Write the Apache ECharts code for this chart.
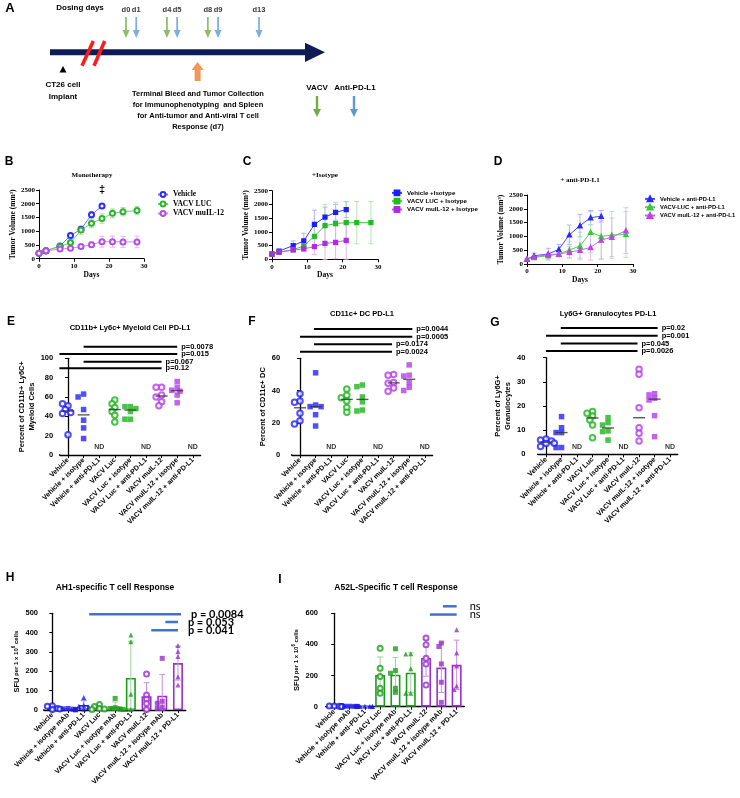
<!DOCTYPE html>
<html>
<head>
<meta charset="utf-8">
<script src="https://cdn.jsdelivr.net/npm/echarts/dist/echarts.min.js"></script>
<style>
html, body { margin: 0; padding: 0; background: #fff; }
#main { width: 740px; height: 798px; }
</style>
</head>
<body>
<div id="main"></div>
<script>
/* ---- panel A: dosing schedule (days) ---- */
var vacvDays = [0, 4, 8];
var pdl1Days = [1, 5, 9, 13];
var collectDay = 7;

/* ---- panels B-D: tumour growth, days / mm3 ---- */
var bDays = [0, 2, 6, 9, 12, 15, 18, 21, 24, 28];
var bVehicle = [200, 280, 465, 840, 1070, 1600, 1920];
var bVehicleErr = [20, 30, 40, 80, 100, 110, 60];
var bLuc = [200, 300, 440, 585, 1040, 1290, 1460, 1650, 1710, 1750];
var bLucErr = [20, 30, 40, 70, 150, 160, 170, 160, 150, 150];
var bIl12 = [200, 290, 350, 380, 440, 510, 620, 620, 610, 610];
var bIl12Err = [20, 30, 40, 40, 60, 100, 200, 200, 200, 210];

var cVehicle = [190, 300, 500, 670, 1270, 1540, 1710, 1810];
var cVehicleErr = [20, 60, 170, 280, 520, 360, 290, 290];
var cLuc = [190, 255, 350, 485, 840, 1225, 1300, 1335, 1335, 1335];
var cLucErr = [20, 40, 80, 150, 380, 780, 780, 770, 770, 770];
var cIl12 = [190, 260, 340, 380, 460, 580, 620, 690];
var cIl12Err = [20, 40, 60, 90, 280, 590, 600, 690];

var dVehicle = [180, 300, 360, 530, 1060, 1390, 1680, 1730];
var dVehicleErr = [20, 90, 210, 180, 350, 410, 260, 210];
var dLuc = [180, 240, 300, 360, 510, 650, 1150, 1000, 1050, 1070];
var dLucErr = [20, 40, 60, 100, 300, 500, 750, 810, 850, 830];
var dIl12 = [180, 260, 340, 360, 430, 500, 600, 870, 970, 1210];
var dIl12Err = [20, 40, 60, 80, 200, 290, 460, 700, 700, 830];

/* ---- panels E-G: PD-L1 % per mouse ---- */
var catsDot = ['Vehicle', 'Vehicle + isotype', 'Vehicle + anti-PD-L1', 'VACV Luc', 'VACV Luc + isotype',
  'VACV Luc + anti-PD-L1', 'VACV muIL-12', 'VACV muIL-12 + isotype', 'VACV muIL-12 + anti-PD-L1'];
var eVals = [[51, 53, 47, 44, 43, 21], [63, 60, 47, 36, 28, 17], [], [57, 53, 49, 45, 41, 34],
  [50, 50, 48, 45, 37, 37], [], [70, 70, 62, 60, 55, 51], [76, 70, 67, 66, 62, 54], []];
var fVals = [[38, 33.5, 32.7, 25.9, 21.3, 19.3], [51, 31, 30, 30, 25, 18], [], [41, 37, 35.5, 33.5, 29.5, 26.5],
  [43.4, 42.4, 36, 33, 27.9, 27.3], [], [50, 49.5, 45, 44.5, 41.5, 39.5], [55.9, 49.5, 49, 45, 42, 40], []];
var gVals = [[6.3, 5.9, 5.5, 4.6, 4.5, 3.2], [15.6, 11, 9, 9, 2.8, 2.8], [], [17.7, 17, 15.9, 14.2, 12.1, 6.9],
  [15.2, 13.1, 12.1, 9.7, 9.4, 5.9], [], [35.2, 33.1, 19.3, 11, 8.7, 5.5], [25.1, 24.6, 23.2, 22.5, 16, 7.3], []];
// [from group, to group, height, label]
var sigE = [[1, 7, 112, 'p=0.0078'], [-0.55, 7, 104.5, 'p=0.015'], [1, 6, 96.5, 'p=0.067'], [-0.55, 6, 89.6, 'p=0.12']];
var sigF = [[0.9, 7.2, 78.2, 'p=0.0044'], [0, 7.2, 73.4, 'p=0.0005'], [0.9, 5.9, 68.7, 'p=0.0174'], [0, 5.9, 64.1, 'p=0.0024']];
var sigG = [[0.95, 7.2, 52.3, 'p=0.02'], [0, 7.2, 49.1, 'p=0.001'], [0.95, 5.9, 45.9, 'p=0.045'], [0, 5.9, 42.8, 'p=0.0026']];

/* ---- panels H-I: SFU per 1e6 cells ---- */
var catsBar = ['Vehicle', 'Vehicle + isotype mAb', 'Vehicle + anti-PD-L1', 'VACV Luc', 'VACV Luc + isotype mAb',
  'VACV Luc + anti-PD-L1', 'VACV muIL-12', 'VACV muIL-12 + isotype mAb', 'VACV muIL-12 + PD-L1'];
var hVals = [[22, 20, 8, 5, 2], [8, 6, 4, 2, 1], [64, 25, 20, 15, 5], [28, 18, 8, 5, 2], [60, 12, 8, 5, 3],
  [388, 353, 81, 3, 3], [186, 78, 55, 34, 3], [267, 45, 35, 15, 8], [333, 302, 276, 172, 129]];
var iVals = [[5, 4, 3, 2, 1], [3, 3, 2, 2, 1], [3, 2, 2, 1, 1], [376, 247, 194, 118, 86], [372, 232, 215, 118, 92],
  [340, 338, 243, 86, 86], [441, 398, 312, 275, 140], [409, 387, 275, 157, 28], [495, 345, 262, 133, 110]];
var sigH = [[2.35, 8.2, 495, 'p = 0.0084'], [7.2, 8, 455, 'p = 0.053'], [6.3, 8, 412, 'p = 0.041']];
var sigI = [[7.1, 8, 645, 'ns'], [6.25, 8, 592, 'ns']];

var SANS = "'Liberation Sans', Arial, sans-serif";
var SERIF = "'Liberation Serif', 'Times New Roman', serif";
var NAVY = '#0d1c57';

var dotCol = ['#2323ff', '#2323ff', '#2323ff', '#1cb51c', '#1cb51c', '#1cb51c', '#b53bef', '#b53bef', '#b53bef'];
var barCol = ['#1a1ae6', '#1a1ae6', '#1a1ae6', '#1a9e1a', '#1a9e1a', '#1a9e1a', '#9930cc', '#9930cc', '#9930cc'];
var barErr = ['#8a8af5', '#8a8af5', '#8a8af5', '#9ad49a', '#9ad49a', '#9ad49a', '#c990e3', '#c990e3', '#c990e3'];

function mean(a) { var s = 0; a.forEach(function (v) { s += v; }); return s / a.length; }
function sd(a) {
  var m = mean(a), s = 0;
  a.forEach(function (v) { s += (v - m) * (v - m); });
  return Math.sqrt(s / (a.length - 1));
}
function median(a) {
  var s = a.slice().sort(function (x, y) { return x - y; }), n = s.length;
  return n % 2 ? s[(n - 1) / 2] : (s[n / 2 - 1] + s[n / 2]) / 2;
}

// little beeswarm, returns offsets in category units
function swarm(vals, pxU, catPx, d) {
  var placed = [], out = [];
  vals.forEach(function (v) {
    var y = v * pxU, steps = [0, -1, 1, -2, 2, -3, 3], x = 0;
    for (var k = 0; k < steps.length; k++) {
      x = steps[k] * d * 0.5;
      var ok = placed.every(function (p) {
        var dx = p[0] - x, dy = p[1] - y;
        return dx * dx + dy * dy >= d * d * 0.6;
      });
      if (ok) break;
    }
    placed.push([x, y]);
    out.push(x / catPx);
  });
  return out;
}

function txt(x, y, s, size, o) {
  o = o || {};
  return {
    type: 'text', x: x, y: y, silent: true,
    style: {
      text: s, fill: o.color || '#000',
      font: (o.weight || 'bold') + ' ' + size + 'px ' + (o.family || SANS),
      align: o.align || 'center', verticalAlign: 'middle'
    }
  };
}

function downArrow(cx, top, bottom, color) {
  var hh = bottom - 8;
  return {
    type: 'polygon', silent: true,
    shape: { points: [[cx - 1.2, top], [cx + 1.2, top], [cx + 1.2, hh], [cx + 4, hh], [cx, bottom], [cx - 4, hh], [cx - 1.2, hh]] },
    style: { fill: color }
  };
}

function plain(v) { return String(v); }

function errSeries(data, xIdx, yIdx, colorFn, cap, lw, z) {
  return {
    type: 'custom', xAxisIndex: xIdx, yAxisIndex: yIdx, silent: true, z: z || 3,
    encode: { x: 0, y: [1, 2] }, data: data,
    renderItem: function (params, api) {
      var x = api.value(0);
      var lo = api.coord([x, api.value(1)]), hi = api.coord([x, api.value(2)]);
      var st = { stroke: colorFn(params.dataIndex), lineWidth: lw };
      return {
        type: 'group', children: [
          { type: 'line', shape: { x1: lo[0], y1: lo[1], x2: hi[0], y2: hi[1] }, style: st },
          { type: 'line', shape: { x1: hi[0] - cap, y1: hi[1], x2: hi[0] + cap, y2: hi[1] }, style: st },
          { type: 'line', shape: { x1: lo[0] - cap, y1: lo[1], x2: lo[0] + cap, y2: lo[1] }, style: st }
        ]
      };
    }
  };
}

function growth(name, days, vals, err, col, lineCol, errCol, symbol, size, idx) {
  return [{
    type: 'line', name: name, xAxisIndex: idx, yAxisIndex: idx, symbol: symbol, symbolSize: size,
    showAllSymbol: true, silent: true, z: 4,
    lineStyle: { width: 1, color: lineCol }, itemStyle: { color: col, borderColor: col, borderWidth: 1.2 },
    data: vals.map(function (v, i) { return [days[i], v]; })
  }, errSeries(vals.map(function (v, i) { return [days[i], v - err[i], v + err[i]]; }),
    idx, idx, function () { return errCol; }, 2.5, 0.8, 3)];
}

function dotSeries(vals, xIdx, yIdx, pxU, catPx, cols, shapes, size) {
  var list = [];
  vals.forEach(function (grp, i) {
    if (!grp.length) return;
    var offs = swarm(grp, pxU, catPx, size);
    var shape = shapes[i % 3];
    list.push({
      type: 'scatter', xAxisIndex: xIdx, yAxisIndex: yIdx, symbol: shape, symbolSize: size,
      silent: true, z: 5, clip: false,
      itemStyle: shape === 'emptyCircle' ? { color: cols[i], borderColor: cols[i], borderWidth: 1.2 } : { color: cols[i] },
      data: grp.map(function (v, j) { return [i + offs[j], v]; })
    });
  });
  return list;
}

function sigSeries(sig, xIdx, yIdx, st) {
  return sig.map(function (s) {
    return {
      type: 'line', xAxisIndex: xIdx, yAxisIndex: yIdx, clip: false, silent: true, symbol: 'none', z: 4,
      lineStyle: { color: st.color, width: st.width },
      endLabel: {
        show: true, formatter: s[3], distance: st.dist, color: '#000', fontSize: st.size,
        fontWeight: st.weight, fontFamily: st.font
      },
      data: [[s[0], s[2]], [s[1], s[2]]]
    };
  });
}

function axisExt(xIdx, yIdx, from) {
  return {
    type: 'line', xAxisIndex: xIdx, yAxisIndex: yIdx, clip: false, silent: true, symbol: 'none', z: 1,
    lineStyle: { color: '#000', width: 1.3 }, data: [[from, 0], [-0.5, 0]]
  };
}

function dotPanel(vals, sig, cIdx, vIdx, yIdx, pxU, catPx, ndY, extFrom) {
  var list = dotSeries(vals, vIdx, yIdx, pxU, catPx, dotCol, ['emptyCircle', 'rect', 'rect'], 5.5);
  var med = [], nd = [];
  vals.forEach(function (g, i) {
    if (g.length) med.push([i, median(g)]); else nd.push([i, ndY]);
  });
  list.push({
    type: 'scatter', xAxisIndex: vIdx, yAxisIndex: yIdx, symbol: 'rect', symbolSize: [12, 1.4],
    silent: true, z: 6, itemStyle: { color: '#333' }, data: med
  });
  list.push({
    type: 'scatter', xAxisIndex: vIdx, yAxisIndex: yIdx, symbol: 'circle', symbolSize: 1, silent: true,
    itemStyle: { color: '#fff' }, data: nd,
    label: { show: true, position: 'inside', formatter: 'ND', color: '#000', fontSize: 7, fontWeight: 'bold', fontFamily: SANS }
  });
  list = list.concat(sigSeries(sig, vIdx, yIdx, { color: '#000', width: 2, dist: 4, size: 7.5, weight: 'bold', font: SANS }));
  list.push(axisExt(vIdx, yIdx, extFrom));
  return list;
}

function barPanel(vals, sig, cIdx, vIdx, yIdx, pxU, catPx, sigSt, extFrom) {
  var list = [{
    type: 'bar', xAxisIndex: cIdx, yAxisIndex: yIdx, barWidth: 10, silent: true, z: 2,
    data: vals.map(function (g, i) {
      return { value: mean(g), itemStyle: { color: 'rgba(255,255,255,0)', borderColor: barCol[i], borderWidth: 1.6 } };
    })
  }];
  list.push(errSeries(vals.map(function (g, i) {
    var m = mean(g), d = sd(g);
    return [i, Math.max(0, m - d), m + d];
  }), cIdx, yIdx, function (i) { return barErr[i]; }, 3, 1, 3));
  list = list.concat(dotSeries(vals, vIdx, yIdx, pxU, catPx, barCol, ['emptyCircle', 'rect', 'triangle'], 5));
  list = list.concat(sigSeries(sig, vIdx, yIdx, sigSt));
  list.push(axisExt(vIdx, yIdx, extFrom));
  return list;
}

/* ---- axes ---- */
function growthX(gi) {
  return {
    gridIndex: gi, type: 'value', min: 0, max: 30, interval: 10,
    name: 'Days', nameLocation: 'middle', nameGap: 12,
    nameTextStyle: { fontFamily: SERIF, fontWeight: 'bold', fontSize: 7.5, color: '#000' },
    axisLine: { show: true, onZero: false, lineStyle: { color: '#000', width: 1 } },
    axisTick: { show: true, length: 3, lineStyle: { color: '#000' } },
    axisLabel: { fontFamily: SERIF, fontWeight: 'bold', fontSize: 7, color: '#000', margin: 4, formatter: plain },
    splitLine: { show: false }
  };
}
function growthY(gi, gap) {
  return {
    gridIndex: gi, type: 'value', min: 0, max: 2500, interval: 500,
    name: 'Tumor Volume (mm³)', nameLocation: 'middle', nameRotate: 90, nameGap: gap,
    nameTextStyle: { fontFamily: SERIF, fontWeight: 'bold', fontSize: 7.5, color: '#000' },
    axisLine: { show: true, lineStyle: { color: '#000', width: 1 } },
    axisTick: { show: true, length: 3, lineStyle: { color: '#000' } },
    axisLabel: { fontFamily: SERIF, fontWeight: 'bold', fontSize: 7, color: '#000', margin: 4, formatter: plain },
    splitLine: { show: false }
  };
}
function catX(gi, cats) {
  return {
    gridIndex: gi, type: 'category', data: cats, boundaryGap: true,
    axisLine: { show: true, lineStyle: { color: '#000', width: 1.3 } },
    axisTick: { show: true, alignWithLabel: true, length: 3, lineStyle: { color: '#000', width: 1 } },
    axisLabel: { interval: 0, rotate: 45, fontSize: 7, fontWeight: 'bold', color: '#000', fontFamily: SANS, margin: 4 },
    splitLine: { show: false }
  };
}
function hidX(gi) {
  return { gridIndex: gi, type: 'value', min: -0.5, max: 8.5, show: false };
}
function valY(gi, max, step, name, gap, off, rich) {
  return {
    gridIndex: gi, type: 'value', min: 0, max: max, interval: step, offset: off,
    name: name, nameLocation: 'middle', nameRotate: 90, nameGap: gap,
    nameTextStyle: { fontFamily: SANS, fontWeight: 'bold', fontSize: 7.5, color: '#000', lineHeight: 10, rich: rich },
    axisLine: { show: true, lineStyle: { color: '#000', width: 1.3 } },
    axisTick: { show: true, length: 3, lineStyle: { color: '#000', width: 1 } },
    axisLabel: { fontFamily: SANS, fontWeight: 'bold', fontSize: 7.5, color: '#000', margin: 5, formatter: plain },
    splitLine: { show: false }
  };
}

var sfuRich = {
  a: { fontFamily: SANS, fontWeight: 'bold', fontSize: 7.5, color: '#000' },
  b: { fontFamily: SANS, fontWeight: 'bold', fontSize: 6, color: '#000' },
  c: { fontFamily: SANS, fontWeight: 'bold', fontSize: 4.5, color: '#000', verticalAlign: 'top', padding: [0, 0, 4, 0] }
};
var sfuName = '{a|SFU}{b| per 1 x 10}{c|6}{b| cells}';

var legendBase = function (data, left, top, family, size) {
  return {
    data: data, left: left, top: top, orient: 'vertical', itemWidth: 10, itemHeight: 6, itemGap: 1.5,
    selectedMode: false, padding: 0,
    textStyle: { fontFamily: family, fontWeight: 'bold', fontSize: size, color: '#000', overflow: 'none', width: 120 }
  };
};

var arrowDown = 'path://M3,0L5,0L5,13L8,13L4,21L0,13L3,13Z';
var arrowUp = 'path://M6,0L12,8L9,8L9,19L3,19L3,8L0,8Z';

var series = [];
// panel A markers on a day scale
series.push({
  type: 'scatter', xAxisIndex: 0, yAxisIndex: 0, symbol: arrowDown, symbolSize: [7, 21], clip: false, silent: true,
  itemStyle: { color: '#70ad47' }, data: vacvDays.map(function (d) { return [d, 10.5]; }),
  label: { show: true, position: 'top', distance: 3, formatter: function (p) { return 'd' + p.value[0]; },
    color: '#000', fontSize: 7.5, fontWeight: 'bold', fontFamily: SANS }
});
series.push({
  type: 'scatter', xAxisIndex: 0, yAxisIndex: 0, symbol: arrowDown, symbolSize: [7, 21], clip: false, silent: true,
  itemStyle: { color: '#5b9bd5' }, data: pdl1Days.map(function (d) { return [d, 10.5]; }),
  label: { show: true, position: 'top', distance: 3, formatter: function (p) { return 'd' + p.value[0]; },
    color: '#000', fontSize: 7.5, fontWeight: 'bold', fontFamily: SANS }
});
series.push({
  type: 'scatter', xAxisIndex: 0, yAxisIndex: 0, symbol: arrowUp, symbolSize: [12, 19], clip: false, silent: true,
  itemStyle: { color: '#ed7d31' }, data: [[collectDay, 54.5]]
});

// B
var bVehData = growth('Vehicle', bDays, bVehicle, bVehicleErr, '#2b2bff', '#7a7aff', '#9a9aff', 'emptyCircle', 5, 1);
bVehData[0].data[6] = { value: [18, bVehicle[6]], label: { show: true, position: 'top', distance: 7, formatter: '‡', fontSize: 11, fontWeight: 'bold', color: '#000' } };
series = series.concat(bVehData,
  growth('VACV LUC', bDays, bLuc, bLucErr, '#2cb52c', '#6fd16f', '#8fdc8f', 'emptyCircle', 5, 1),
  growth('VACV muIL-12', bDays, bIl12, bIl12Err, '#b64de8', '#d08af0', '#dba8f5', 'emptyCircle', 5, 1));
// C
series = series.concat(
  growth('Vehicle +Isotype', bDays, cVehicle, cVehicleErr, '#1d1dff', '#3a3aff', '#a0a0ff', 'rect', 4, 2),
  growth('VACV LUC + Isotype', bDays, cLuc, cLucErr, '#22bb22', '#44c744', '#9ee29e', 'rect', 4, 2),
  growth('VACV muIL-12 + Isotype', bDays, cIl12, cIl12Err, '#b12be0', '#c35ae8', '#dfa3f2', 'rect', 4, 2));
// D
series = series.concat(
  growth('Vehicle + anti-PD-L1', bDays, dVehicle, dVehicleErr, '#2a2aff', '#4848ff', '#a0a0ff', 'triangle', 4.5, 3),
  growth('VACV-LUC + anti-PD-L1', bDays, dLuc, dLucErr, '#33cc33', '#55d055', '#a6e6a6', 'triangle', 4.5, 3),
  growth('VACV muIL-12 + anti-PD-L1', bDays, dIl12, dIl12Err, '#c040f0', '#cc66f2', '#e2b0f6', 'triangle', 4.5, 3));
// E-G
series = series.concat(dotPanel(eVals, sigE, 4, 5, 4, 0.967, 15.6, 8, -0.63));
series = series.concat(dotPanel(fVals, sigF, 6, 7, 5, 1.61, 15.6, 5, -0.95));
series = series.concat(dotPanel(gVals, sigG, 8, 9, 6, 2.415, 15.5, 3, -1.02));
// H-I
series = series.concat(barPanel(hVals, sigH, 10, 11, 7, 0.194, 15.7,
  { color: '#4472c4', width: 2.5, dist: 10, size: 11, weight: 'bold', font: "Lato, 'Liberation Sans', sans-serif" }, -0.6));
series = series.concat(barPanel(iVals, sigI, 12, 13, 8, 0.155, 15.3,
  { color: '#4472c4', width: 2.5, dist: 13, size: 11, weight: 'normal', font: "Lato, 'Liberation Sans', sans-serif" }, -0.74));

var gridBase = function (l, t, w, h) { return { left: l, top: t, width: w, height: h, outerBoundsMode: 'none' }; };

var textLines = ['Terminal Bleed and Tumor Collection', 'for Immunophenotyping  and Spleen',
  'for Anti-tumor and Anti-viral T cell', 'Response (d7)'];

var elements = [
  txt(10, 8, 'A', 13), txt(80, 8, 'Dosing days', 8),
  { type: 'rect', silent: true, shape: { x: 50, y: 49.3, width: 256, height: 6 }, style: { fill: NAVY } },
  { type: 'polygon', silent: true, shape: { points: [[305, 42.7], [325, 52.3], [305, 62]] }, style: { fill: NAVY } },
  { type: 'line', silent: true, shape: { x1: 82, y1: 65.7, x2: 93.3, y2: 41 }, style: { stroke: '#ff1a1a', lineWidth: 3.5 } },
  { type: 'line', silent: true, shape: { x1: 94, y1: 65.7, x2: 104.7, y2: 41 }, style: { stroke: '#ff1a1a', lineWidth: 3.5 } },
  { type: 'polygon', silent: true, shape: { points: [[59.5, 72.5], [66.5, 72.5], [63, 66] ] }, style: { fill: '#000' } },
  txt(63, 85, 'CT26 cell', 8), txt(63, 97, 'Implant', 8),
  txt(317, 88, 'VACV', 8), txt(355, 88, 'Anti-PD-L1', 8),
  downArrow(317, 96, 117, '#70ad47'), downArrow(354, 96, 117, '#5b9bd5'),
  txt(9, 162, 'B', 12), txt(247, 162, 'C', 12), txt(498, 162, 'D', 12),
  txt(92, 175, 'Monotherapy', 7, { family: SERIF }), txt(325, 175, '+Isotype', 7, { family: SERIF }),
  txt(580, 180, '+ anti-PD-L1', 7, { family: SERIF }),
  txt(11, 322, 'E', 12), txt(252, 322, 'F', 12), txt(495, 323, 'G', 12),
  txt(130, 328, 'CD11b+ Ly6c+ Myeloid Cell PD-L1', 7.5), txt(362, 314, 'CD11c+ DC PD-L1', 7.5),
  txt(608, 314, 'Ly6G+ Granulocytes PD-L1', 7.5),
  txt(10, 578, 'H', 12), txt(280, 580, 'I', 12),
  txt(115, 588, 'AH1-specific T cell Response', 8.5), txt(396, 588, 'A52L-Specific T cell Response', 8.5)
];
textLines.forEach(function (s, i) { elements.push(txt(198, 94 + i * 11, s, 7.5)); });

var option = {
  animation: false,
  backgroundColor: '#fff',
  textStyle: { fontFamily: SANS },
  grid: [
    gridBase(126, 17, 133, 63),
    gridBase(39, 190, 105, 68.7),
    gridBase(272, 190.7, 106, 68.6),
    gridBase(527, 195, 106, 69),
    gridBase(60.2, 358.3, 140.4, 96.7),
    gridBase(292.2, 358.3, 140.4, 96.7),
    gridBase(538.3, 357.7, 139.5, 96.6),
    gridBase(44.5, 613.3, 141.3, 96.7),
    gridBase(326.6, 613.3, 137.7, 93.4)
  ],
  xAxis: [
    { gridIndex: 0, type: 'value', min: 0, max: 13, show: false },
    growthX(1), growthX(2), growthX(3),
    catX(4, catsDot), hidX(4),
    catX(5, catsDot), hidX(5),
    catX(6, catsDot), hidX(6),
    catX(7, catsBar), hidX(7),
    catX(8, catsBar), hidX(8)
  ],
  yAxis: [
    { gridIndex: 0, type: 'value', min: 0, max: 63, inverse: true, show: false },
    growthY(1, 20), growthY(2, 20), growthY(3, 18),
    valY(4, 100, 20, 'Percent of CD11b+ Ly6C+\nMyeloid Cells', 20, 2),
    valY(5, 60, 20, 'Percent of CD11c+ DC', 14, 7),
    valY(6, 40, 10, 'Percent of Ly6G+\nGranulocytes', 12, 8),
    valY(7, 500, 100, sfuName, 21, 1.5, sfuRich),
    valY(8, 600, 200, sfuName, 19, 3.6, sfuRich)
  ],
  legend: [
    legendBase(['Vehicle', 'VACV LUC', 'VACV muIL-12'], 157, 190.5, SERIF, 7.5),
    legendBase(['Vehicle +Isotype', 'VACV LUC + Isotype', 'VACV muIL-12 + Isotype'], 391, 189.5, SANS, 6.2),
    legendBase(['Vehicle + anti-PD-L1', 'VACV-LUC + anti-PD-L1', 'VACV muIL-12 + anti-PD-L1'], 644, 195.5, SANS, 5.8)
  ],
  graphic: { elements: elements },
  series: series
};

var chart = echarts.init(document.getElementById('main'));
chart.setOption(option);
</script>
</body>
</html>
